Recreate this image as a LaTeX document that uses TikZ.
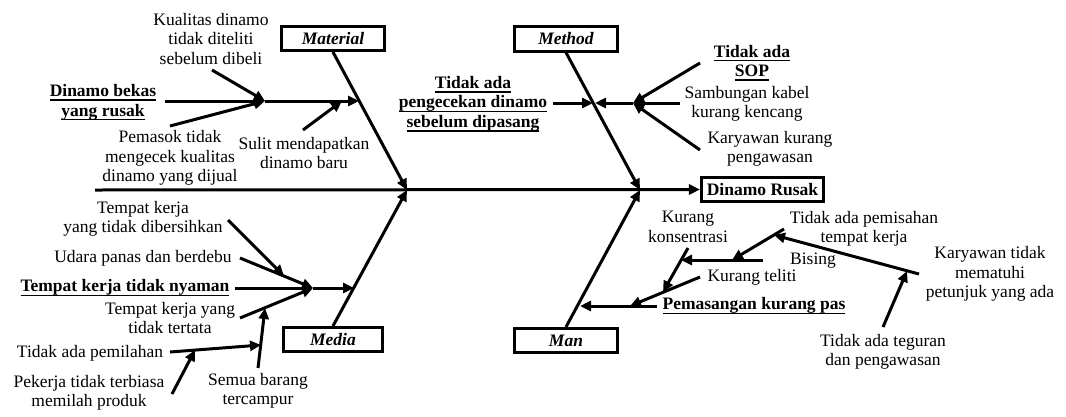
\documentclass[tikz,border=0pt]{standalone}
\usepackage{fontspec}
\setmainfont{Liberation Serif}
\usetikzlibrary{arrows.meta}
% underline set at a fixed depth below the baseline
\newcommand\undl[1]{\leavevmode\setbox0=\hbox{#1}\rlap{\rule[-4.2pt]{\wd0}{1.5pt}}\box0}
\begin{document}
\begin{tikzpicture}[x=1pt,y=-1pt,
  every node/.style={font=\fontsize{17.5}{19.5}\selectfont, inner sep=0pt, align=center},
  bld/.style={font=\fontsize{17.5}{19.5}\selectfont\bfseries},
  catbox/.style={draw, line width=2.6pt, inner sep=0pt,
    font=\fontsize{17.5}{19.5}\selectfont\bfseries\itshape,
    minimum width=103.5pt, minimum height=24.5pt},
  effbox/.style={draw, line width=2.6pt, inner sep=0pt,
    font=\fontsize{17.5}{19.5}\selectfont\bfseries,
    minimum width=122.5pt, minimum height=24.5pt},
  bone/.style={line width=3pt, -{Triangle[length=11pt,width=10pt]}}
]
\useasboundingbox (0,0) rectangle (1066,416);

% ---- head and category boxes
\node[effbox] (eff) at (762.5,189.5) {Dinamo Rusak};
\node[catbox] (mat) at (333,38.5) {Material};
\node[catbox] (met) at (566,39) {Method};
\node[catbox, minimum width=98.5pt] (med) at (333,339.5) {Media};
\node[catbox] (man) at (566,340.5) {Man};

% ---- spine and main bones
\coordinate (tail) at (95,190);
\coordinate (mtip) at (407,190);
\coordinate (ntip) at (640,190);
\draw[bone] (tail) -- (eff.west);
\draw[bone] (mat.south) -- (mtip);
\draw[bone] (met.south) -- (ntip);
\draw[bone] (med.north) -- (mtip);
\draw[bone] (man.north) -- (ntip);

% ---- Material
\node[bld] (bekas) at (103,102.5) {\undl{Dinamo bekas}\\\undl{yang rusak}};
\node (kual) at (211,39) {Kualitas dinamo\\tidak diteliti\\sebelum dibeli};
\node (pemasok) at (170,158) {Pemasok tidak\\mengecek kualitas\\dinamo yang dijual};
\node (sulit) at (304,153) {Sulit mendapatkan\\dinamo baru};
\coordinate (ja) at (265,101);
\coordinate (jaS) at (165,101);
\coordinate (jaE) at (359,101);
\coordinate (kuS) at (212,70);
\coordinate (peS) at (170,126);
\coordinate (suS) at (303,130);
\coordinate (suE) at (342,101);
\draw[bone] (jaS) -- (ja);
\draw[bone] (kuS) -- (ja);
\draw[bone] (peS) -- (ja);
\draw[bone] (ja) -- (jaE);
\draw[bone] (suS) -- (suE);

% ---- Method
\node[bld] (cek) at (473,104) {\undl{Tidak ada}\\\undl{pengecekan dinamo}\\\undl{sebelum dipasang}};
\node[bld] (sop) at (752,63) {\undl{Tidak ada}\\\undl{SOP}};
\node (samb) at (747,104) {Sambungan kabel\\kurang kencang};
\node (karkur) at (770,149) {Karyawan kurang\\pengawasan};
\coordinate (jb) at (633,103);
\coordinate (ckS) at (553,103);
\coordinate (ckE) at (593,103);
\coordinate (jbE) at (595,103);
\coordinate (soS) at (700,63);
\coordinate (saS) at (680,103);
\coordinate (kkS) at (700,150);
\draw[bone] (ckS) -- (ckE);
\draw[bone] (soS) -- (jb);
\draw[bone] (saS) -- (jb);
\draw[bone] (kkS) -- (jb);
\draw[bone] (jb) -- (jbE);

% ---- Media
\node[bld] (nyaman) at (125,288) {\undl{Tempat kerja tidak nyaman}};
\node (bersih) at (143,219) {Tempat kerja\\yang tidak dibersihkan};
\node (udara) at (143,258) {Udara panas dan berdebu};
\node (tertata) at (170,318) {Tempat kerja yang\\tidak tertata};
\node (pilah) at (90,353) {Tidak ada pemilahan};
\node (pekerja) at (89,393) {Pekerja tidak terbiasa\\memilah produk};
\node (semua) at (258,391) {Semua barang\\tercampur};
\coordinate (jc) at (313,288);
\coordinate (nyS) at (235,288);
\coordinate (jcE) at (354,288);
\coordinate (udS) at (240,258);
\coordinate (beS) at (228,220);
\coordinate (beE) at (284,276);
\coordinate (ttS) at (240,318);
\coordinate (smS) at (258,368);
\coordinate (smE) at (265,308);
\coordinate (plS) at (170,352);
\coordinate (plE) at (261,345);
\coordinate (pkS) at (172,394);
\coordinate (pkE) at (195,350);
\draw[bone] (nyS) -- (jc);
\draw[bone] (udS) -- (jc);
\draw[bone] (ttS) -- (jc);
\draw[bone] (jc) -- (jcE);
\draw[bone] (beS) -- (beE);
\draw[bone] (smS) -- (smE);
\draw[bone] (plS) -- (plE);
\draw[bone] (pkS) -- (pkE);

% ---- Man
\node[bld] (pasang) at (754,306) {\undl{Pemasangan kurang pas}};
\node (kons) at (688,227) {Kurang\\konsentrasi};
\node (pisah) at (864,229) {Tidak ada pemisahan\\tempat kerja};
\node (bising) at (813,261) {Bising};
\node (teliti) at (752,277) {Kurang teliti};
\node (patuh) at (990,274) {Karyawan tidak\\mematuhi\\petunjuk yang ada};
\node (tegur) at (883,352) {Tidak ada teguran\\dan pengawasan};
\coordinate (jd) at (630,306);
\coordinate (paS) at (657,306);
\coordinate (paE) at (580,306);
\coordinate (teS) at (700,277);
\coordinate (koS) at (688,248);
\coordinate (koE) at (663,292);
\coordinate (biS) at (763,260);
\coordinate (biE) at (681,260);
\coordinate (psS) at (784,229);
\coordinate (psE) at (732,260);
\coordinate (kaS) at (919,274);
\coordinate (kaE) at (774,235);
\coordinate (tgS) at (883,327);
\coordinate (tgE) at (907,271);
\draw[bone] (paS) -- (paE);
\draw[bone] (teS) -- (jd);
\draw[bone] (koS) -- (koE);
\draw[bone] (biS) -- (biE);
\draw[bone] (psS) -- (psE);
\draw[bone] (kaS) -- (kaE);
\draw[bone] (tgS) -- (tgE);
\end{tikzpicture}
\end{document}
